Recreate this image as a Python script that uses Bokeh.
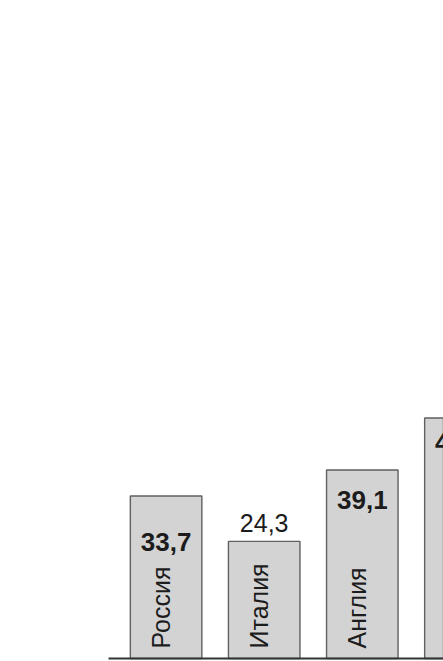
import math
from bokeh.plotting import figure
from bokeh.models import Range1d, ColumnDataSource
from bokeh.core.properties import value
from bokeh.embed import file_html
from bokeh.resources import INLINE

# ---- data ----
countries = ["Россия", "Италия", "Англия", "Франция"]
values = [33.7, 24.3, 39.1, 49.9]
labels = ["33,7", "24,3", "39,1", "49,9"]
label_bold = [True, False, True, True]

# ---- style ----
label_dy = [46, -18, 30, 24]      # px below bar top (negative = above) for value-label baseline
FONT = "Liberation Sans"
BAR_FILL = "#d3d3d3"
BAR_LINE = "#606060"
TEXT = "#1c1c1c"

idx = list(range(len(countries)))
W, H = 443, 661
px_per_x = 98.1
px_per_y = 4.82
x0 = -165.6 / px_per_x
y0 = -3 / px_per_y

p = figure(width=W, height=H, output_backend="svg", toolbar_location=None,
           x_range=Range1d(x0, x0 + W / px_per_x),
           y_range=Range1d(y0, y0 + H / px_per_y),
           x_axis_type=None, y_axis_type=None, min_border=0)
p.outline_line_color = None
p.grid.visible = False
p.background_fill_color = "white"

src = ColumnDataSource(dict(x=idx, top=values, name=countries, lab=labels))
p.vbar(x="x", top="top", bottom=0, width=0.729, source=src,
       fill_color=BAR_FILL, line_color=BAR_LINE, line_width=1.4)

# baseline
p.segment(x0=[idx[0] - 0.365 - 0.222], y0=[0], x1=[idx[-1] + 2], y1=[0],
          line_color="#333333", line_width=2)

for bold in (True, False):
    sel = [i for i in idx if label_bold[i] == bold]
    s = ColumnDataSource(dict(x=[idx[i] for i in sel], y=[values[i] for i in sel],
                              t=[labels[i] for i in sel],
                              dy=[label_dy[i] for i in sel]))
    p.text(x="x", y="y", text="t", y_offset="dy", source=s,
           text_align="center", text_baseline="alphabetic",
           text_font=value(FONT), text_font_size="26px" if bold else "25px",
           text_font_style="bold" if bold else "normal", text_color=TEXT)

# rotated country names
p.text(x="x", y=0, text="name", source=src, angle=math.pi / 2,
       x_offset=-5, y_offset=-10,
       text_align="left", text_baseline="alphabetic",
       text_font=value(FONT), text_font_size="25px", text_color=TEXT)

open("out.html", "w").write(file_html(p, INLINE))
